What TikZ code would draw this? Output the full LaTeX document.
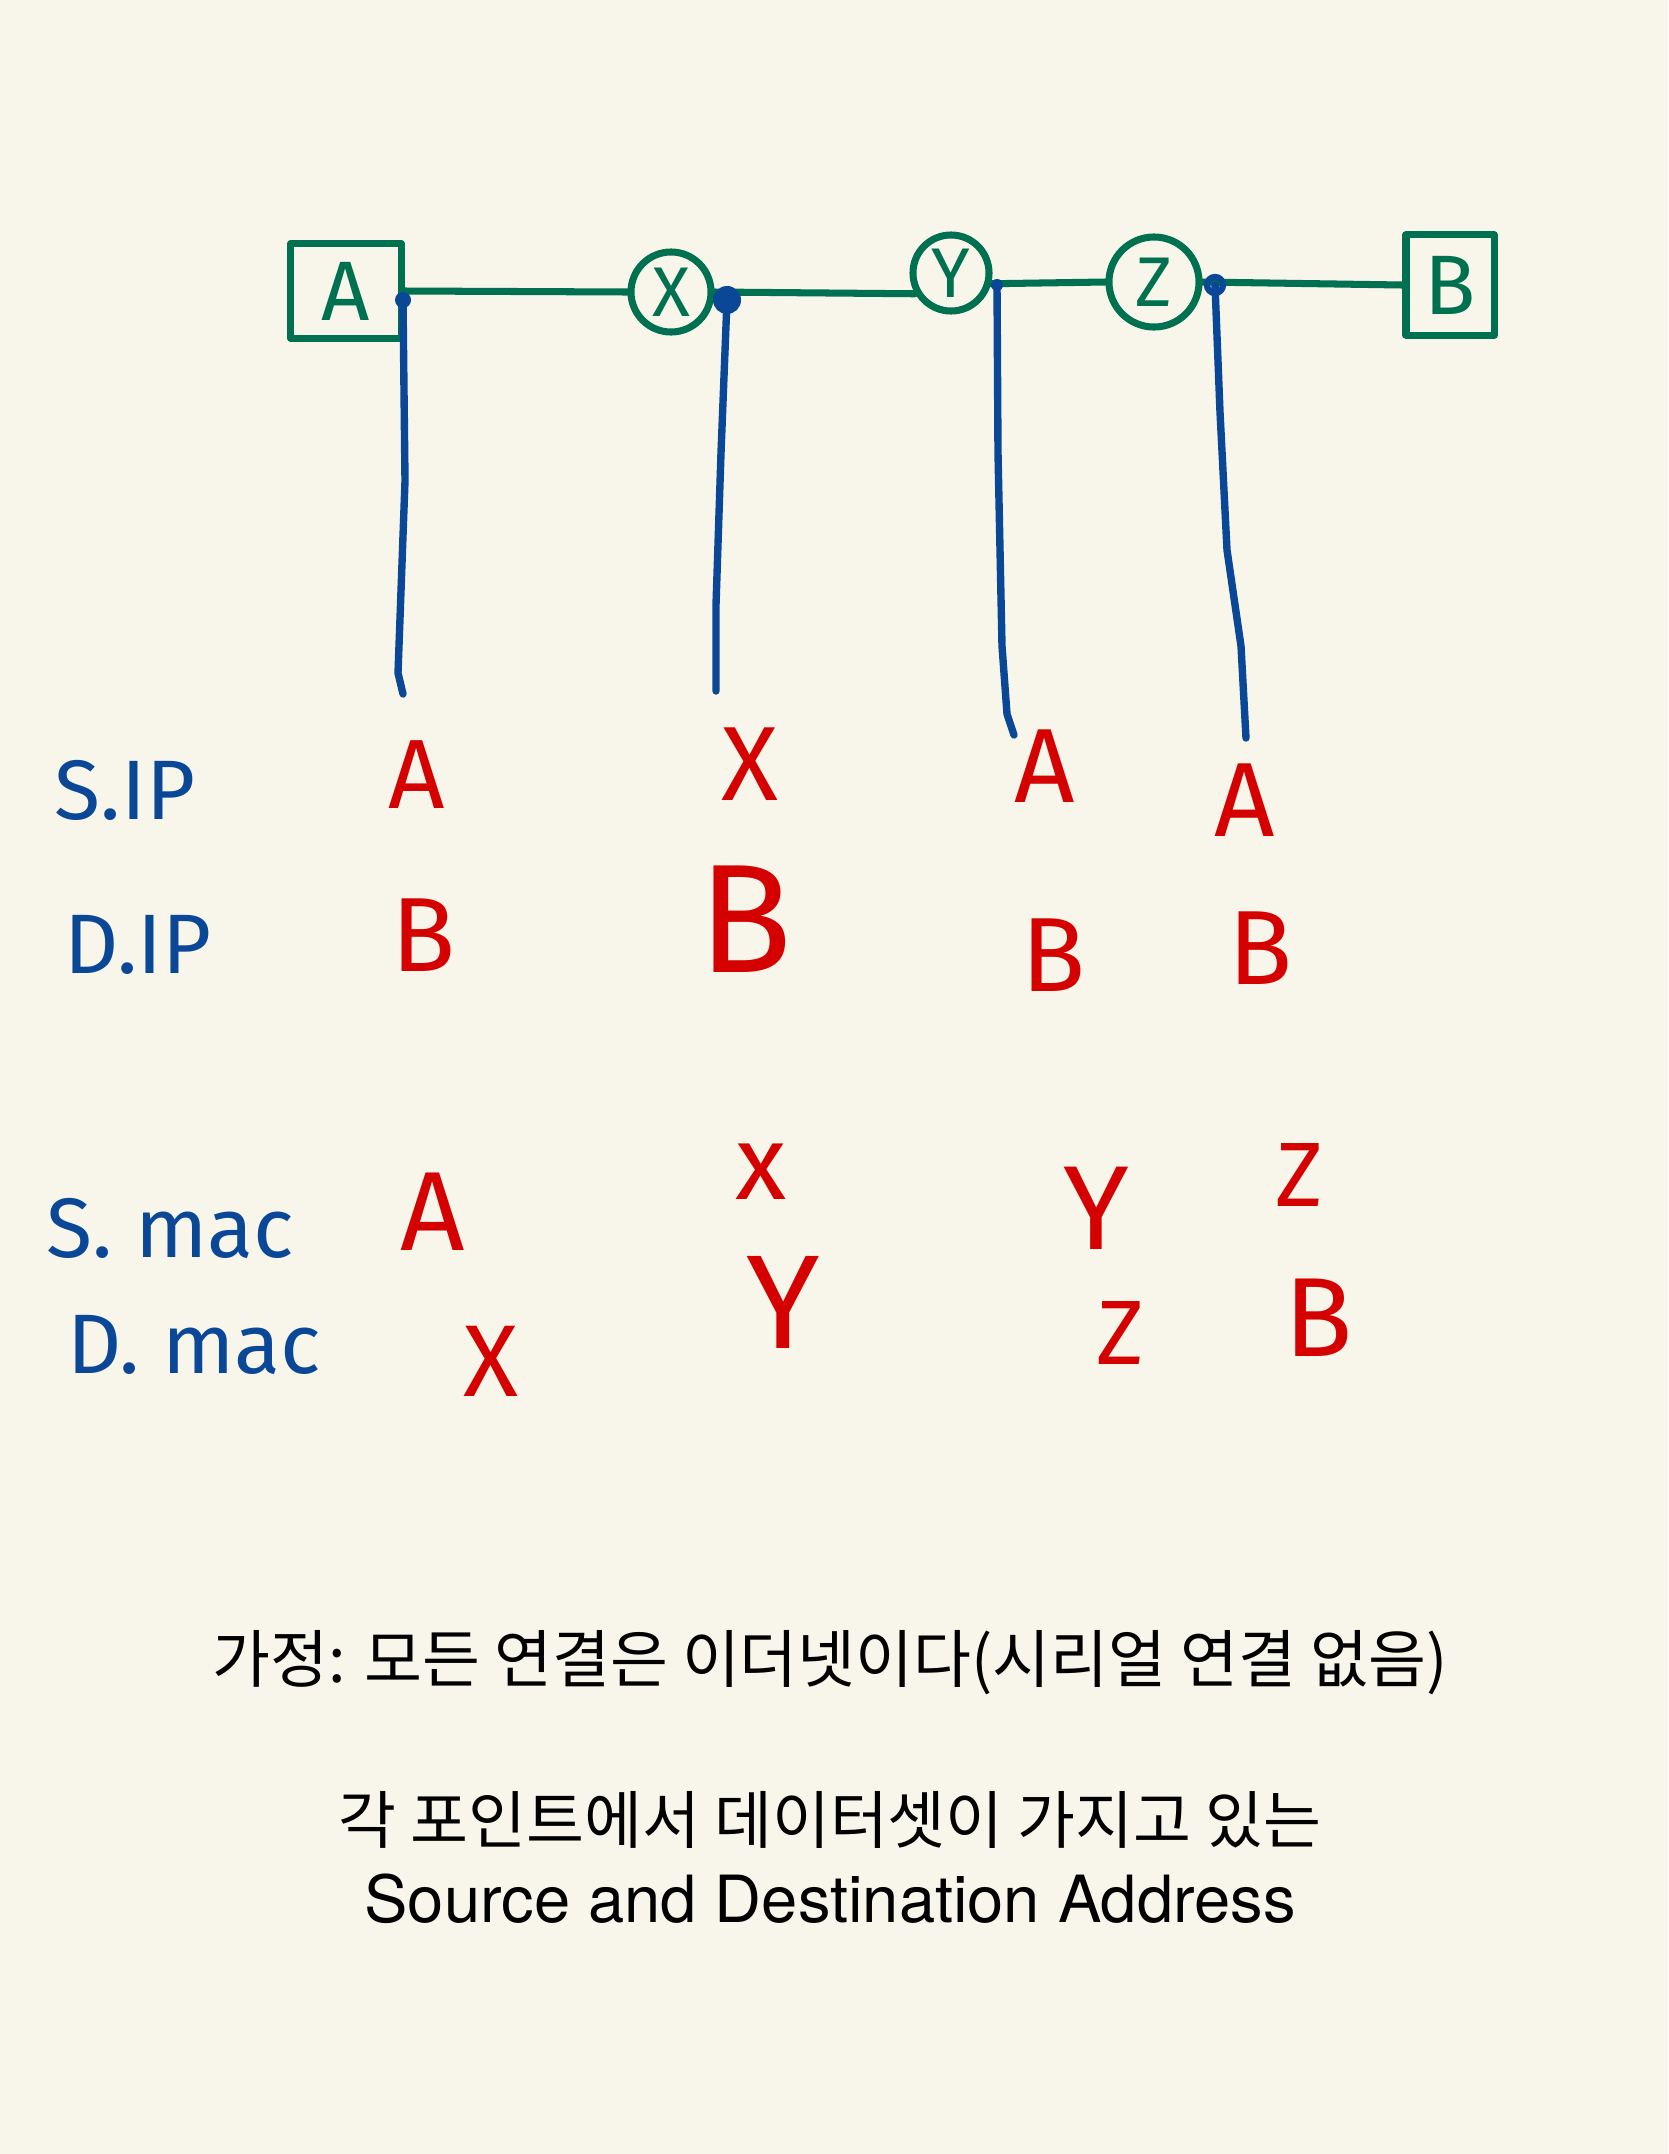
\documentclass[tikz,border=0pt]{standalone}
\usepackage{fontspec}
\setmainfont{TeX Gyre Heros}
\newfontfamily\krfont{Noto Sans CJK KR}
\newfontfamily\handfont{Fira Sans}
\definecolor{paper}{rgb}{0.973,0.965,0.918}
\definecolor{netgreen}{rgb}{0.0,0.443,0.314}
\definecolor{penblue}{rgb}{0.039,0.278,0.588}
\definecolor{penred}{rgb}{0.835,0.0,0.0}

\begin{document}
\begin{tikzpicture}[x=0.01cm,y=-0.01cm,line cap=round,line join=round,
  wire/.style={line width=2pt,color=netgreen},
  tap/.style={line width=2.1pt,color=penblue},
  host/.style={draw=netgreen,line width=2pt,minimum width=1.1cm,minimum height=0.95cm,inner sep=0pt,text=netgreen,font=\handfont\fontsize{24pt}{24pt}\selectfont},
  router/.style={circle,draw=netgreen,line width=2pt,inner sep=0pt,text=netgreen,font=\handfont\fontsize{20pt}{20pt}\selectfont},
  rowlbl/.style={text=penblue,font=\handfont\fontsize{24pt}{24pt}\selectfont},
  addr/.style={text=penred,font=\handfont\fontsize{#1}{#1}\selectfont},
  addr/.default=30pt,
  note/.style={font=\krfont\fontsize{17.9pt}{20pt}\selectfont}]
  \fill[paper] (0,0) rectangle (1668,2154);
  \useasboundingbox (0,0) rectangle (1668,2154);

  % network
  \node[host] (hostA) at (346,291) {A};
  \node[router,minimum size=0.8cm] (rtrX) at (671,292) {X};
  \node[router,minimum size=0.76cm] (rtrY) at (951,273) {Y};
  \node[router,minimum size=0.9cm] (rtrZ) at (1154,282) {Z};
  \node[host,minimum width=0.88cm,minimum height=1cm] (hostB) at (1450,285) {B};
  \draw[wire] (hostA.east) -- (rtrX.west);
  \draw[wire] (rtrX.east) -- (rtrY.210);
  \draw[wire] (rtrY.-15) -- (rtrZ.west);
  \draw[wire] (rtrZ.east) -- (hostB.west);

  % capture points
  \coordinate (tapA) at (403,300);
  \coordinate (tapX) at (727,300);
  \coordinate (tapY) at (997,285);
  \coordinate (tapZ) at (1215,285);
  \coordinate (endA) at (403,694);
  \coordinate (endX) at (716,691);
  \coordinate (endY) at (1014,735);
  \coordinate (endZ) at (1246,738);
  \draw[tap] (tapA) -- (405,481) -- (401,591) -- (398,673) -- (endA);
  \draw[tap] (tapX) -- (721,453) -- (716,605) -- (endX);
  \draw[tap] (tapY) -- (998,453) -- (1002,646) -- (1007,714) -- (endY);
  \draw[tap] (tapZ) -- (1220,412) -- (1227,550) -- (1241,646) -- (endZ);
  \fill[penblue] (tapA) circle (0.08cm);
  \fill[penblue] (tapX) circle (0.14cm);
  \fill[penblue] (tapY) circle (0.06cm);
  \draw[penblue,line width=1.8pt] (tapZ) circle (0.08cm);

  % row labels
  \node[rowlbl] (sIP) at (125,790) {S.IP};
  \node[rowlbl] (dIP) at (138,945) {D.IP};
  \node[rowlbl] (sMac) at (170,1228) {S. mac};
  \node[rowlbl] (dMac) at (194,1345) {D. mac};

  % addresses
  \node[addr=28pt] (sip1) at (417,775) {A};
  \node[addr] (sip2) at (750,764) {X};
  \node[addr] (sip3) at (1045,766) {A};
  \node[addr] (sip4) at (1245,800) {A};
  \node[addr] (dip1) at (424,935) {B};
  \node[addr=44pt] (dip2) at (746,919) {B};
  \node[addr] (dip3) at (1054,955) {B};
  \node[addr] (dip4) at (1261,948) {B};
  \node[addr=32pt] (smac1) at (433,1212) {A};
  \node[addr=30pt] (smac2) at (761,1172) {x};
  \node[addr=34pt] (smac3) at (1096,1208) {Y};
  \node[addr=26pt] (smac4) at (1299,1175) {Z};
  \node[addr=29pt] (dmac1) at (491,1361) {X};
  \node[addr=38pt] (dmac2) at (783,1302) {Y};
  \node[addr=26pt] (dmac3) at (1120,1333) {Z};
  \node[addr=32pt] (dmac4) at (1319,1318) {B};

  % notes
  \node[note] (assume) at (830,1663) {가정: 모든 연결은 이더넷이다(시리얼 연결 없음)};
  \node[note] (caption) at (830,1820) {각 포인트에서 데이터셋이 가지고 있는};
  \node[font=\fontsize{18.5pt}{20pt}\selectfont] (captionEn) at (830,1899) {Source and Destination Address};
\end{tikzpicture}
\end{document}
